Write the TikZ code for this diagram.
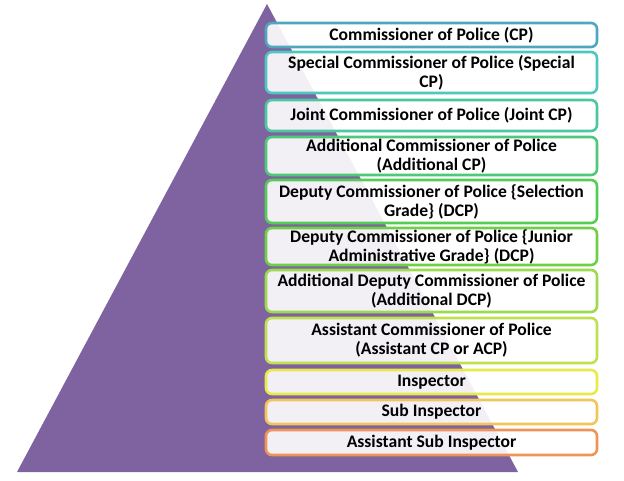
\documentclass[tikz,border=0pt]{standalone}
\usepackage{fontspec}
\setmainfont{Carlito}
\definecolor{pyramid}{HTML}{7F63A1}
\definecolor{rankA}{HTML}{4FA6BF}
\definecolor{rankB}{HTML}{4FC6C0}
\definecolor{rankC}{HTML}{4CC7A0}
\definecolor{rankD}{HTML}{4EC97A}
\definecolor{rankE}{HTML}{55CC55}
\definecolor{rankF}{HTML}{6FD048}
\definecolor{rankG}{HTML}{9BDB4D}
\definecolor{rankH}{HTML}{C0E050}
\definecolor{rankI}{HTML}{E8EA4A}
\definecolor{rankJ}{HTML}{F2C55A}
\definecolor{rankK}{HTML}{EE9555}
\begin{document}
\begin{tikzpicture}[
				x=1pt, y=-1pt,
				rank/.style={draw, line width=2.6pt, rounded corners=6pt,
					fill=white, fill opacity=0.9, text opacity=1,
					minimum width=331pt, inner sep=0pt, align=center,
					font=\bfseries\fontsize{17.6}{19}\selectfont},
				]
				\useasboundingbox[fill=white] (0,0) rectangle (624,480);
				% pyramid
				\fill[pyramid] (267,4) -- (518,472) -- (17,472) -- cycle;
				% ranks, top to bottom
				\node[rank, draw=rankA, minimum height=24pt] (cp) at (431.5,35) {Commissioner of Police (CP)};
				\node[rank, draw=rankB, minimum height=41pt] (scp) at (431.5,72.5) {Special Commissioner of Police (Special\\CP)};
				\node[rank, draw=rankC, minimum height=31pt] (jcp) at (431.5,115.5) {Joint Commissioner of Police (Joint CP)};
				\node[rank, draw=rankD, minimum height=38pt] (acp) at (431.5,156) {Additional Commissioner of Police\\(Additional CP)};
				\node[rank, draw=rankE, minimum height=43pt] (dcps) at (431.5,201.5) {Deputy Commissioner of Police \{Selection\\Grade\} (DCP)};
				\node[rank, draw=rankF, minimum height=37pt] (dcpj) at (431.5,246.5) {Deputy Commissioner of Police \{Junior\\Administrative Grade\} (DCP)};
				\node[rank, draw=rankG, minimum height=42pt] (adcp) at (431.5,291) {Additional Deputy Commissioner of Police\\(Additional DCP)};
				\node[rank, draw=rankH, minimum height=45pt] (asstcp) at (431.5,340.5) {Assistant Commissioner of Police\\(Assistant CP or ACP)};
				\node[rank, draw=rankI, minimum height=24pt] (insp) at (431.5,382) {Inspector};
				\node[rank, draw=rankJ, minimum height=24pt] (si) at (431.5,412) {Sub Inspector};
				\node[rank, draw=rankK, minimum height=25pt] (asi) at (431.5,442.5) {Assistant Sub Inspector};
			\end{tikzpicture}
\end{document}
